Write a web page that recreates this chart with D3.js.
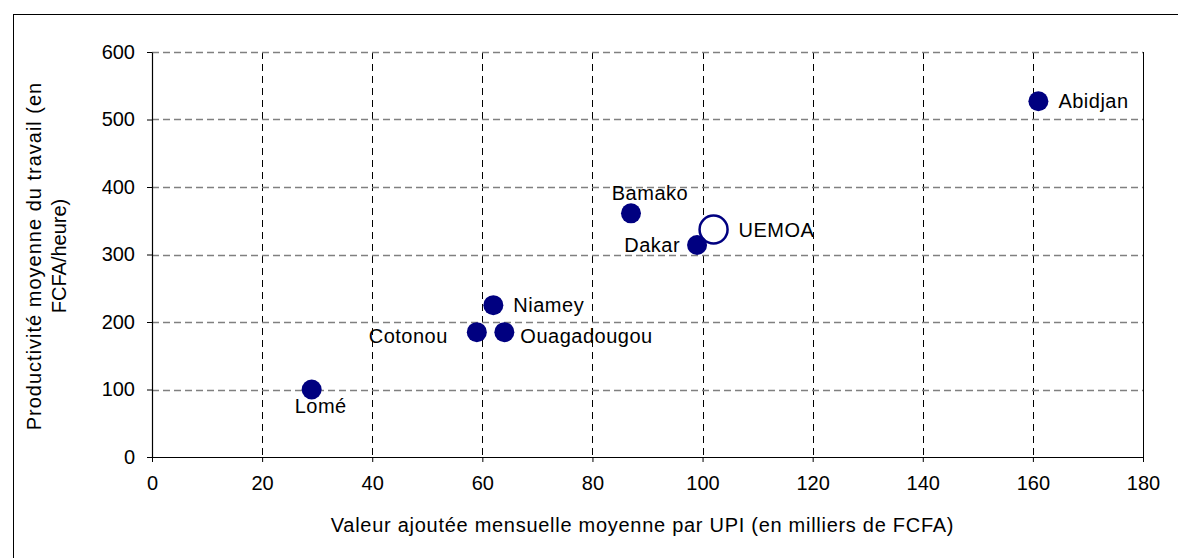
<!DOCTYPE html>
<html>
<head>
<meta charset="utf-8">
<script src="https://cdn.jsdelivr.net/npm/d3@7"></script>
<style>
  body { margin: 0; background: #fff; }
  text { font-family: Arial, "Liberation Sans", sans-serif; fill: #000; }
</style>
</head>
<body>
<script>
// data
var cities = ["Abidjan", "Bamako", "UEMOA", "Dakar", "Niamey", "Cotonou", "Ouagadougou", "Lomé"];
var valeurAjoutee = [161, 87, 102, 99, 62, 59, 64, 29];
var productivite = [527, 361, 337, 314, 225, 185, 185, 100];
var xTicks = [0, 20, 40, 60, 80, 100, 120, 140, 160, 180];
var yTicks = [0, 100, 200, 300, 400, 500, 600];

// label placement (layout only)
var labelPos = ["right", "aboveRight", "right", "left", "right", "left", "right", "below"];

var W = 1178, H = 558;
var margin = {top: 52, right: 35, bottom: 101, left: 152};
var width = W - margin.left - margin.right,
    height = H - margin.top - margin.bottom;

var svg = d3.select("body").append("svg")
    .attr("width", W)
    .attr("height", H);

// chart frame
svg.append("rect")
    .attr("x", 13.5).attr("y", 14.5)
    .attr("width", W).attr("height", H)
    .attr("fill", "none")
    .attr("stroke", "#000")
    .attr("stroke-width", 1);

var g = svg.append("g")
    .attr("transform", "translate(" + margin.left + "," + margin.top + ")");

var x = d3.scaleLinear().domain([0, 180]).range([0, width]);
var y = d3.scaleLinear().domain([0, 600]).range([height, 0]);

// grid
g.selectAll(".vgrid")
    .data(xTicks.slice(1, -1))
  .enter().append("line")
    .attr("class", "vgrid")
    .attr("x1", function(d) { return Math.round(x(d)) + 0.5; })
    .attr("x2", function(d) { return Math.round(x(d)) + 0.5; })
    .attr("y1", 0).attr("y2", height)
    .attr("stroke", "#000")
    .attr("stroke-dasharray", "7,5");

g.selectAll(".hgrid")
    .data(yTicks.slice(1))
  .enter().append("line")
    .attr("class", "hgrid")
    .attr("x1", 0).attr("x2", width)
    .attr("y1", function(d) { return Math.round(y(d)) + 0.5; })
    .attr("y2", function(d) { return Math.round(y(d)) + 0.5; })
    .attr("stroke", "#808080")
    .attr("stroke-width", 1.5)
    .attr("stroke-dasharray", "7,4");

// right border of plot
g.append("line")
    .attr("x1", width + 0.5).attr("x2", width + 0.5)
    .attr("y1", 0).attr("y2", height)
    .attr("stroke", "#000");

// axes
var xAxis = g.append("g")
    .attr("transform", "translate(0," + height + ")")
    .call(d3.axisBottom(x).tickValues(xTicks).tickSize(5).tickPadding(14).tickSizeOuter(0));

var yAxis = g.append("g")
    .call(d3.axisLeft(y).tickValues(yTicks).tickSize(5).tickPadding(12).tickSizeOuter(0));

[xAxis, yAxis].forEach(function(a) {
  a.select(".domain").attr("stroke", "#000").attr("stroke-width", 1.2);
  a.selectAll(".tick line").attr("stroke", "#000");
  a.selectAll("text")
      .style("font-family", "Arial, 'Liberation Sans', sans-serif")
      .style("font-size", "20px")
      .attr("fill", "#000");
});

// axis titles
svg.append("text")
    .attr("x", margin.left + width / 2 - 5)
    .attr("y", 532)
    .attr("text-anchor", "middle")
    .style("font-size", "20px")
    .style("letter-spacing", "0.72px")
    .text("Valeur ajoutée mensuelle moyenne par UPI (en milliers de FCFA)");

var yt = svg.append("text")
    .attr("transform", "translate(41,256) rotate(-90)")
    .attr("text-anchor", "middle")
    .style("font-size", "20px");
yt.append("tspan").attr("x", 0).attr("dy", 0)
    .style("letter-spacing", "1px")
    .text("Productivité moyenne du travail (en");
yt.append("tspan").attr("x", 0).attr("dy", 25).text("FCFA/heure)");

// points
var pts = cities.map(function(c, i) {
  return {name: c, vx: valeurAjoutee[i], vy: productivite[i], pos: labelPos[i]};
});

g.selectAll(".dot")
    .data(pts)
  .enter().append("circle")
    .attr("class", "dot")
    .attr("cx", function(d) { return x(d.vx); })
    .attr("cy", function(d) { return y(d.vy); })
    .attr("r", function(d) { return d.name === "UEMOA" ? 14 : 10; })
    .attr("fill", function(d) { return d.name === "UEMOA" ? "#fff" : "#000080"; })
    .attr("stroke", "#000080")
    .attr("stroke-width", function(d) { return d.name === "UEMOA" ? 2.5 : 0; });

g.selectAll(".lbl")
    .data(pts)
  .enter().append("text")
    .attr("class", "lbl")
    .style("font-size", "20px")
    .style("letter-spacing", "0.5px")
    .attr("dominant-baseline", "central")
    .attr("x", function(d) {
      var cx = x(d.vx);
      if (d.pos === "right") return cx + (d.name === "UEMOA" ? 25 : (d.name === "Ouagadougou" ? 16 : 20));
      if (d.pos === "left") return cx - (d.name === "Cotonou" ? 29 : 17);
      if (d.pos === "aboveRight") return cx + 19;
      return cx + 9;
    })
    .attr("y", function(d) {
      var cy = y(d.vy);
      if (d.pos === "aboveRight") return cy - 20;
      if (d.pos === "below") return cy + 16;
      if (d.name === "Cotonou" || d.name === "Ouagadougou") return cy + 4;
      return cy;
    })
    .attr("text-anchor", function(d) {
      if (d.pos === "left") return "end";
      if (d.pos === "right") return "start";
      return "middle";
    })
    .text(function(d) { return d.name; });
</script>
</body>
</html>
